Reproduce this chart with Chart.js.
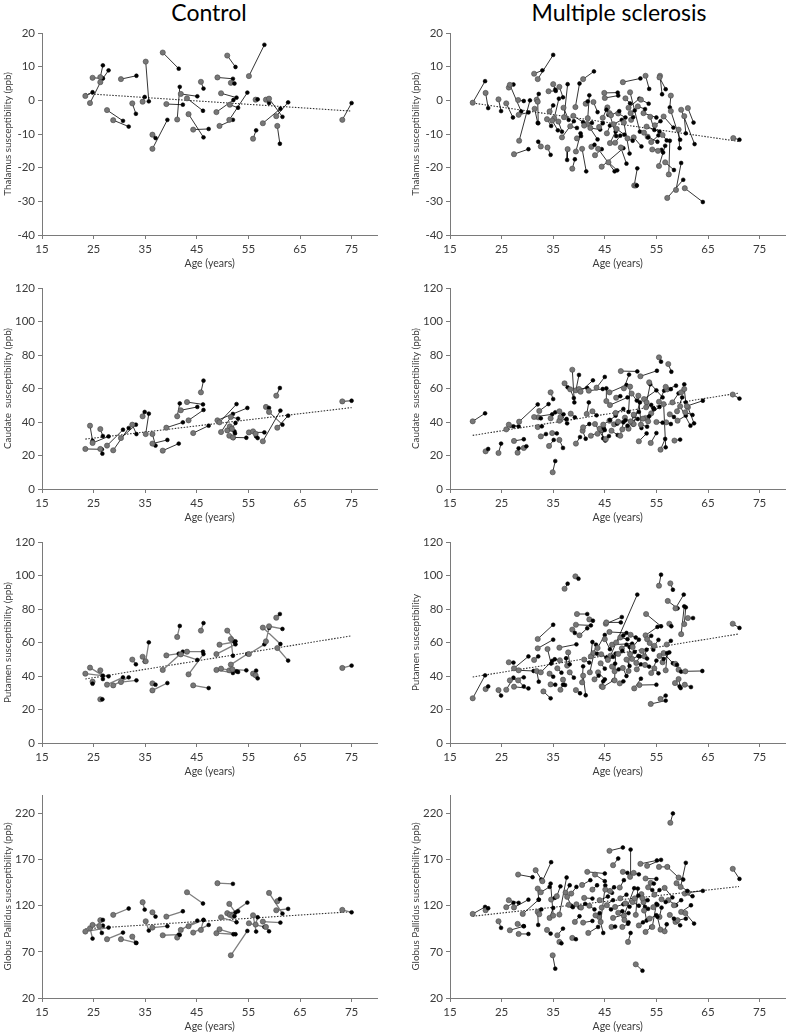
<!DOCTYPE html>
<html>
<head>
<meta charset="utf-8">
<script src="https://cdn.jsdelivr.net/npm/chart.js@4.4.1/dist/chart.umd.min.js"></script>
<style>
  body { margin: 0; background: #fff; width: 790px; height: 1033px; overflow: hidden; position: relative; font-family: Lato, sans-serif; }
  .head { position: absolute; top: 0; width: 338px; text-align: center; font-size: 23px; line-height: 25px; color: #000; }
  canvas { position: absolute; }
</style>
</head>
<body>
<div class="head" style="left:40px">Control</div>
<div class="head" style="left:450px">Multiple sclerosis</div>
<canvas id="c1"></canvas><canvas id="c2"></canvas>
<canvas id="c3"></canvas><canvas id="c4"></canvas>
<canvas id="c5"></canvas><canvas id="c6"></canvas>
<canvas id="c7"></canvas><canvas id="c8"></canvas>
<script>
// each row: [age at scan 1, value 1, age at scan 2, value 2]
const xTicks = [15, 25, 35, 45, 55, 65, 75];
const thalTicks = [-40, -30, -20, -10, 0, 10, 20];
const caudTicks = [0, 20, 40, 60, 80, 100, 120];
const putTicks = [0, 20, 40, 60, 80, 100, 120];
const gpTicks = [20, 70, 120, 170, 220];

const thalCtrl = [
  [23.4,1.3,24.8,2.4],[24.3,-0.8,26.7,6.5],[24.8,6.7,26.8,6.5],[26.3,6.9,26.8,10.4],
  [26.3,5.4,27.9,8.9],[27.6,-2.9,30.7,-6.1],[28.8,-5.9,31.8,-7.8],[30.3,6.3,33.3,7.3],
  [32.5,-0.9,33.2,-4.0],[34.5,-0.4,34.9,1.0],[35.1,11.5,35.7,-0.3],[36.4,-10.2,37.0,-11.2],
  [36.4,-14.4,39.3,-5.8],[38.4,14.2,41.5,9.4],[39.1,-1.1,42.3,-1.3],[41.2,-5.7,41.7,4.0],
  [41.9,1.9,45.1,1.2],[43.1,0.6,46.2,-3.1],[43.4,-4.1,46.3,-11.0],[44.3,-8.7,47.3,-8.5],
  [45.8,5.5,46.3,3.5],[49.0,6.8,52.0,6.4],[48.8,-3.5,52.1,0.1],[49.4,-7.6,52.0,-5.8],
  [49.7,2.1,52.7,0.8],[50.9,13.3,52.5,9.9],[51.3,-5.8,54.8,2.3],[51.4,-1.3,53.0,-2.2],
  [51.6,5.2,52.3,5.0],[55.1,7.2,58.1,16.5],[56.4,0.2,56.8,0.3],[55.9,-11.4,56.5,-8.9],
  [57.8,-6.8,61.2,-2.5],[58.4,0.2,59.0,-0.8],[59.0,0.5,61.6,-4.9],[60.4,-4.7,62.7,-0.6],
  [60.6,-7.6,61.1,-12.9],[73.2,-5.8,75.0,-0.8]
];
const caudCtrl = [
  [23.4,23.9,26.6,23.7],[24.3,37.8,24.8,28.8],[24.8,27.5,27.9,31.4],[26.3,35.8,26.8,31.6],
  [26.3,23.9,26.7,21.1],[27.6,25.9,30.7,35.4],[28.8,23.1,31.8,36.4],[30.3,30.4,33.2,38.4],
  [32.5,38.4,33.3,32.8],[34.5,43.4,34.9,46.0],[35.1,32.8,35.7,45.0],[36.4,32.8,37.0,25.9],
  [36.4,27.1,39.3,29.3],[38.4,22.9,41.5,27.1],[39.1,36.6,42.3,39.8],[41.2,43.4,41.7,51.1],
  [41.9,47.0,45.1,49.0],[43.1,51.9,46.2,50.5],[43.4,41.0,46.3,47.2],[44.3,33.4,47.3,37.8],
  [45.8,57.7,46.3,64.7],[49.0,41.0,54.8,48.4],[49.7,34.0,52.0,44.8],[49.4,39.8,52.7,50.7],
  [50.9,35.0,52.3,34.4],[51.3,31.8,52.1,30.4],[51.4,37.4,52.4,33.2],[51.6,43.0,53.0,42.0],
  [52.0,30.8,54.6,30.6],[51.8,36.0,52.5,39.4],[55.1,33.8,58.1,33.8],[55.9,34.4,56.5,31.4],
  [56.4,33.0,56.8,30.4],[57.8,28.5,61.2,46.8],[58.4,49.0,59.0,48.4],[59.0,46.0,61.6,38.4],
  [60.4,55.7,61.1,60.3],[60.6,36.6,62.7,43.8],[73.2,52.3,75.0,52.7]
];
const putCtrl = [
  [23.4,41.4,27.9,39.8],[24.3,45.0,26.8,40.2],[24.8,36.6,24.8,35.4],[26.3,43.4,26.8,38.2],
  [26.3,26.1,26.7,26.1],[27.6,34.8,30.7,39.2],[28.8,34.4,31.8,39.2],[30.3,36.4,33.3,37.4],
  [32.5,49.8,33.2,47.0],[34.5,51.5,34.9,48.6],[35.1,48.8,35.7,60.1],[36.4,35.6,37.0,34.8],
  [36.4,31.4,39.3,35.8],[38.4,43.6,42.3,54.5],[39.1,52.3,41.5,53.3],[41.2,63.3,41.7,69.9],
  [41.9,52.9,45.1,49.6],[43.1,54.5,46.2,54.5],[43.4,41.0,46.3,53.1],[44.3,34.4,47.3,32.8],
  [45.8,67.1,46.3,71.6],[48.8,53.1,52.5,58.9],[49.4,58.7,52.3,60.3],[50.9,67.1,52.5,60.7],
  [51.6,62.1,52.0,52.1],[48.8,43.6,52.0,41.8],[49.7,44.4,52.7,42.8],[51.3,43.4,53.0,42.4],
  [51.6,46.8,54.8,53.1],[51.9,44.0,54.6,43.4],[55.1,53.1,58.1,58.9],[55.9,41.4,56.5,43.2],
  [56.4,40.4,56.8,38.6],[57.8,68.9,61.2,59.1],[58.4,60.7,59.0,68.7],[59.0,69.7,61.6,68.1],
  [60.4,74.8,61.1,77.0],[60.6,56.7,62.7,49.2],[73.2,44.8,75.0,46.2]
];
const gpCtrl = [
  [23.4,92.0,27.9,96.3],[24.3,95.6,24.8,84.4],[24.8,99.2,26.8,98.5],[26.3,104.3,26.8,104.6],
  [26.1,98.1,26.6,90.5],[27.6,83.7,30.7,90.9],[28.8,110.1,31.8,117.0],[30.3,83.7,33.3,79.7],
  [32.5,86.5,33.2,79.7],[34.5,123.8,34.9,115.8],[35.1,103.2,35.7,93.1],[36.4,112.9,37.0,108.2],
  [36.4,96.3,39.3,97.8],[38.4,88.0,41.5,88.7],[39.1,108.2,42.3,114.0],[41.2,85.5,41.7,88.4],
  [41.9,93.8,45.1,103.9],[43.1,134.6,46.2,122.4],[43.4,97.8,46.3,104.6],[44.3,90.9,47.3,99.2],
  [45.8,93.8,46.3,104.6],[49.0,144.4,52.0,143.7],[48.8,90.2,52.1,89.1],[49.4,94.5,52.5,89.1],
  [49.7,107.5,52.7,102.1],[50.9,111.9,53.0,114.0],[51.3,122.0,52.5,112.6],[51.4,110.1,54.8,123.4],
  [51.6,66.3,54.8,92.7],[51.9,109.0,52.3,108.6],[55.1,101.0,58.1,97.0],[55.9,109.7,56.5,92.0],
  [56.4,99.6,56.8,107.5],[57.8,102.8,61.2,101.7],[58.4,97.0,59.0,92.3],[59.0,133.9,61.6,111.5],
  [60.4,115.1,62.7,116.6],[60.6,124.9,61.1,127.4],[73.2,115.5,75.0,112.9]
];

const thalMs = [
  [19.4,-0.7,21.8,5.7],[21.9,2.2,22.4,-2.3],[24.4,0.3,24.9,-3.2],[25.9,-0.9,27.2,-5.1],
  [26.4,3.8,27.3,4.7],[26.6,4.6,28.8,-3.3],[28.2,0.1,29.3,-0.2],[28.3,-4.3,30.2,-3.6],
  [28.4,-12.0,30.5,0.0],[27.4,-16.0,30.2,-14.5],[31.3,7.9,32.9,8.9],[32.0,6.3,35.0,13.5],
  [31.8,0.2,32.2,1.9],[32.0,-0.4,32.1,-6.8],[32.6,-13.7,32.1,-12.3],[34.1,2.7,35.5,2.8],
  [33.9,-14.0,34.5,-16.2],[35.0,4.8,35.4,3.2],[34.3,-3.3,35.0,-1.5],[35.2,-5.3,36.1,0.5],
  [34.8,-6.0,35.9,-8.9],[36.2,4.0,36.9,0.9],[37.1,-5.0,37.8,4.8],[37.8,-14.5,37.7,-17.7],
  [36.7,-11.0,39.0,-6.2],[38.7,-20.3,39.2,-17.5],[39.4,-15.2,40.3,-9.8],[39.3,-2.0,40.1,5.0],
  [40.8,6.3,42.9,8.6],[39.6,-11.3,40.4,-10.6],[40.6,-14.4,41.4,-21.1],[41.3,-1.0,41.7,-0.3],
  [41.6,-7.0,43.6,-11.6],[42.2,-8.2,44.1,-8.7],[43.1,-16.3,44.4,-14.5],[43.7,-14.4,46.9,-21.1],
  [44.4,-19.7,48.6,-14.2],[45.0,0.7,47.6,1.4],[44.9,2.2,47.5,2.3],[45.5,-2.1,45.7,-4.3],
  [45.9,-3.8,47.2,-10.6],[45.4,-9.8,46.0,-7.5],[45.7,-18.4,47.4,-20.8],[46.0,-12.7,47.1,-9.3],
  [46.7,-7.1,48.3,-5.8],[48.5,5.4,51.9,6.5],[49.0,0.6,49.9,-0.9],[49.6,-2.2,51.7,0.5],
  [48.1,-14.0,49.2,-18.8],[48.7,-6.6,49.8,-15.8],[49.9,2.4,51.8,-9.3],[50.1,-5.8,50.5,-5.0],
  [50.7,-25.3,51.3,-20.2],[51.0,-25.3,51.2,-25.3],[52.0,0.2,53.5,-1.0],[52.9,7.3,53.6,3.4],
  [52.5,-3.8,55.0,-5.1],[53.1,-7.8,55.6,-9.3],[53.3,-10.8,55.2,-12.3],[54.2,-14.6,56.0,-14.7],
  [55.7,7.3,56.1,1.8],[55.6,6.8,56.8,3.3],[55.5,-19.5,56.7,-13.5],[56.4,-4.8,58.3,-8.1],
  [56.7,-18.4,58.4,-20.7],[57.4,-22.0,57.6,-12.0],[57.1,-29.0,60.2,-23.6],[58.8,-26.6,59.8,-18.6],
  [60.5,-26.1,64.0,-30.2],[57.8,1.4,57.6,-2.1],[57.8,-3.2,59.6,-11.7],[59.3,-8.7,59.5,-14.2],
  [60.4,-4.7,60.7,-9.8],[61.1,-2.3,62.2,-6.6],[59.8,-2.8,62.4,-13.0],[69.9,-11.2,71.1,-11.7],
  [31.4,-2.5,32.0,-6.7],[33.8,-5.6,34.6,-7.6],[41.7,-5.3,42.0,1.5],[43.9,-7.9,44.6,-6.8],
  [47.0,-12.6,48.0,-10.5],[50.6,-11.0,52.1,-13.7],[52.6,-9.6,53.4,-11.0],[54.7,-7.4,55.8,-6.2],
  [38.9,-4.6,40.8,-6.5],[47.6,-3.9,49.0,-5.1],[41.0,-7.5,42.5,-6.7],[42.8,-0.5,43.6,-3.5],
  [44.6,-5.2,45.3,-2.8],[46.2,-4.4,47.8,-3.2],[47.3,-8.5,48.8,-10.2],[49.4,-11.3,50.4,-12.0],
  [51.4,-1.8,52.8,-2.6],[53.8,-4.9,54.6,-8.8],[54.0,-12.4,55.4,-10.4],[55.3,-15.0,56.3,-15.5],
  [42.4,-13.8,43.0,-13.2],[38.3,-7.7,39.6,-8.2],[36.0,-6.3,36.7,-9.3],[37.0,-2.2,38.0,-5.8],
  [56.2,-10.3,57.0,-11.9],[50.0,-3.8,50.8,-3.0]
];
const caudMs = [
  [19.4,40.4,21.8,45.2],[21.9,22.5,22.4,23.9],[24.4,21.5,24.9,27.1],[25.9,35.6,27.3,37.4],
  [26.4,38.4,28.3,37.4],[27.4,28.7,29.3,29.7],[28.1,21.7,28.3,24.3],[28.4,40.2,32.0,50.5],
  [29.3,24.5,29.8,25.5],[32.0,37.0,32.8,37.4],[32.1,42.8,32.6,42.2],[32.3,46.6,34.1,50.7],
  [32.6,31.4,33.6,32.8],[31.3,43.0,34.8,44.6],[34.2,25.7,35.1,29.3],[34.5,57.7,35.0,53.7],
  [34.9,10.0,35.4,16.7],[34.5,42.2,35.4,45.8],[34.8,33.4,35.7,33.2],[36.2,29.3,36.9,24.5],
  [36.2,40.8,37.6,41.8],[36.2,46.4,37.7,39.2],[37.2,63.1,37.8,60.7],[38.7,71.2,39.1,51.7],
  [38.3,59.5,39.0,54.3],[39.4,58.9,40.0,68.1],[39.4,27.1,40.2,31.0],[40.0,59.7,41.6,60.3],
  [40.3,58.1,42.7,64.9],[40.7,34.8,41.3,30.0],[41.5,44.8,41.9,51.7],[41.9,58.7,44.6,59.7],
  [42.3,31.8,44.5,34.8],[43.1,38.8,45.1,28.9],[43.4,60.5,45.0,66.9],[44.4,35.4,44.7,30.2],
  [45.3,52.5,45.3,60.1],[45.9,57.7,49.2,62.1],[46.0,50.1,49.4,54.7],[45.9,40.8,47.1,43.8],
  [46.3,34.8,47.5,32.2],[47.1,45.4,48.6,47.8],[48.1,70.4,51.3,70.2],[48.0,31.8,48.6,39.8],
  [48.7,60.1,49.7,68.3],[48.9,42.6,50.5,38.4],[49.9,61.1,49.6,46.0],[50.6,38.8,51.8,51.7],
  [51.5,55.7,52.1,36.4],[51.9,67.3,55.1,70.6],[51.6,28.5,53.1,33.2],[52.9,42.4,54.6,47.8],
  [52.6,53.7,55.0,58.9],[53.1,51.7,53.8,62.5],[53.6,63.7,56.2,54.7],[53.9,27.5,55.0,33.4],
  [55.5,78.6,55.9,76.0],[55.5,52.1,56.5,58.7],[55.8,23.5,56.7,29.9],[56.4,50.7,56.8,24.9],
  [57.1,59.5,58.8,61.7],[57.3,74.6,57.9,70.0],[56.9,39.8,57.8,38.8],[58.1,51.7,59.3,57.1],
  [58.5,28.9,59.6,29.5],[59.0,46.4,60.0,54.7],[59.8,57.7,60.4,62.5],[60.4,59.7,60.7,51.7],
  [59.1,40.8,60.7,43.8],[60.6,45.8,62.0,44.2],[61.1,48.8,62.3,39.2],[59.6,49.4,61.6,37.8],
  [60.9,49.5,64.0,52.7],[69.8,56.4,71.1,54.0],[44.0,36.0,45.0,35.2],[46.8,38.6,47.4,39.0],
  [47.6,40.2,49.0,41.0],[50.0,40.4,51.4,41.8],[52.0,38.4,53.2,37.2],[54.0,45.2,55.6,49.0],
  [43.6,33.0,44.8,36.4],[49.6,36.0,50.6,43.6],[53.4,40.4,54.4,48.2],[42.6,46.4,43.4,44.0],
  [44.7,38.4,46.0,41.2],[48.4,35.6,49.4,37.8],[50.6,44.4,51.6,46.0],[52.4,42.0,53.6,43.4],
  [55.0,40.0,56.2,39.6],[57.6,44.6,58.4,43.0],[40.8,36.8,42.0,38.8],[38.4,45.0,39.2,42.8],
  [36.4,43.0,37.0,44.6],[47.2,54.5,48.0,55.4],[50.2,57.0,51.2,52.8],[53.0,48.8,54.0,50.2],
  [45.2,29.8,45.8,31.6],[56.8,61.0,57.8,59.6]
];
const putMs = [
  [19.4,26.7,21.8,40.4],[21.9,32.2,22.4,33.8],[24.4,31.6,24.9,28.3],[25.9,31.8,27.3,39.0],
  [26.4,48.2,27.3,48.0],[27.4,44.6,30.2,51.7],[27.4,33.6,30.2,32.6],[28.2,37.4,29.3,33.8],
  [28.3,43.4,31.2,43.0],[26.6,37.4,29.3,39.2],[31.3,49.6,32.1,51.7],[32.0,62.1,35.0,70.6],
  [32.0,56.5,35.0,61.7],[31.8,43.0,32.2,36.6],[32.6,42.2,34.8,49.0],[33.1,30.8,34.5,26.7],
  [33.9,56.1,34.6,47.4],[34.3,41.4,35.0,39.6],[34.5,35.0,35.4,34.8],[36.3,49.4,35.3,50.0],
  [36.2,56.9,39.5,58.9],[36.4,31.8,36.9,34.8],[36.9,37.8,37.3,34.6],[37.2,92.1,37.8,95.1],
  [37.7,46.2,37.5,50.6],[37.9,54.1,38.2,47.0],[38.7,67.7,39.2,65.7],[39.3,99.5,39.9,98.1],
  [39.6,77.0,41.6,77.0],[39.4,70.6,42.3,70.2],[39.4,31.6,40.2,29.7],[40.1,64.3,41.6,68.5],
  [40.8,40.2,41.3,28.5],[40.6,36.2,40.8,45.8],[42.0,73.8,42.7,73.0],[42.3,51.7,42.6,60.3],
  [42.1,42.2,43.3,58.7],[42.8,53.7,43.5,53.3],[43.6,56.7,45.0,64.5],[43.7,42.2,45.0,38.0],
  [44.4,33.8,44.7,36.8],[44.6,33.4,46.7,37.4],[45.2,71.2,48.3,75.2],[45.3,72.0,48.1,72.0],
  [45.9,66.3,49.2,65.7],[46.4,58.7,50.3,59.3],[46.9,42.8,47.7,44.0],[46.1,52.1,51.3,88.6],
  [46.9,37.4,47.1,53.4],[47.9,35.6,48.6,36.8],[48.5,44.8,49.2,40.0],[48.3,56.5,49.2,58.7],
  [49.2,49.8,49.8,46.0],[49.6,43.0,49.8,57.3],[50.4,57.3,51.6,61.7],[50.7,32.6,52.0,38.4],
  [51.1,47.8,51.8,51.7],[51.7,34.6,55.0,34.8],[52.7,51.7,53.1,55.7],[52.9,64.3,55.2,69.3],
  [53.0,77.0,55.9,69.7],[53.7,59.7,54.4,55.7],[54.0,41.8,55.0,49.2],[53.9,23.3,56.8,25.3],
  [55.5,93.9,55.9,100.5],[55.8,26.3,56.8,28.3],[56.2,48.2,57.5,54.1],[56.4,53.7,58.2,47.6],
  [56.8,43.4,57.1,53.7],[57.2,84.8,59.1,80.4],[57.7,95.3,58.2,91.5],[57.5,71.2,57.9,69.7],
  [58.7,47.2,59.0,46.6],[58.6,35.8,59.5,33.8],[59.3,38.2,59.7,32.8],[59.3,43.8,59.8,42.6],
  [58.7,80.4,60.3,88.6],[59.8,65.0,60.4,81.6],[60.4,71.0,60.7,81.0],[61.1,74.6,62.1,74.6],
  [60.6,42.8,63.9,43.0],[60.5,34.8,61.7,33.4],[69.8,71.2,71.1,68.7],[52.2,55.0,53.2,50.4],
  [50.3,50.2,51.5,52.0],[48.0,63.0,49.4,62.0],[45.0,62.0,46.0,56.0],[44.3,53.0,45.3,51.0],
  [54.6,58.0,55.4,61.6],[53.2,62.0,54.0,64.0],[47.2,60.0,48.6,64.2],[45.6,49.6,46.6,51.4],
  [47.6,53.2,48.4,55.0],[49.9,53.0,50.8,54.4],[51.2,44.0,52.0,47.0],[52.8,46.6,53.6,45.6],
  [44.2,47.6,45.0,44.4],[41.0,49.8,42.0,48.0],[43.0,38.0,43.8,40.2],[55.6,52.0,56.4,50.2],
  [57.0,58.8,57.8,61.0],[35.8,44.6,36.6,42.0],[38.2,42.2,39.0,39.0],[50.0,64.6,51.0,63.0],
  [54.6,44.6,55.4,41.6],[46.4,45.6,47.0,47.4]
];
const gpMs = [
  [19.4,111.1,21.8,118.7],[21.9,115.1,22.4,117.3],[24.4,103.2,24.9,96.0],[25.9,118.4,27.3,123.1],
  [26.4,126.0,28.3,123.1],[26.6,93.4,29.3,97.8],[27.4,118.1,30.2,126.6],[28.2,153.8,31.0,150.9],
  [28.1,100.3,29.3,97.8],[28.3,89.4,30.2,89.4],[29.1,111.1,32.2,126.6],[31.6,158.5,32.7,148.4],
  [32.0,138.6,32.2,126.6],[32.0,113.3,32.1,99.2],[32.6,134.6,34.3,140.4],[32.9,146.6,34.6,167.2],
  [32.3,110.8,32.7,116.0],[33.8,93.8,34.5,89.8],[34.3,106.8,35.0,117.6],[34.6,126.7,35.3,128.5],
  [34.9,66.3,35.4,51.8],[35.0,109.3,34.5,144.0],[35.7,130.3,36.4,141.0],[36.2,110.4,37.6,150.6],
  [36.2,80.8,36.6,79.3],[35.8,88.0,36.9,95.2],[37.4,134.2,38.2,142.2],[37.7,129.6,38.5,120.0],
  [38.7,85.1,39.4,83.7],[39.2,102.5,40.1,108.6],[38.5,133.2,39.5,140.4],[39.5,121.6,40.1,118.0],
  [40.6,142.5,42.2,147.7],[40.8,101.7,42.6,103.5],[41.0,128.5,42.6,127.8],[41.6,156.7,45.0,154.9],
  [41.8,90.5,43.7,97.0],[42.6,137.5,43.5,142.2],[43.1,153.8,45.0,146.6],[43.9,107.9,44.7,90.5],
  [44.2,102.5,45.1,142.0],[44.4,118.0,46.6,126.0],[45.1,137.5,46.4,134.0],[45.9,179.5,48.5,183.1],
  [46.6,163.9,47.6,171.2],[46.3,97.0,47.0,97.4],[46.6,106.8,49.6,112.0],[47.0,118.7,48.6,121.6],
  [47.9,139.7,48.7,147.7],[48.4,97.0,49.5,100.4],[48.5,156.7,49.4,155.6],[48.7,109.0,50.7,139.0],
  [49.5,80.8,50.0,90.5],[49.9,151.3,50.0,180.9],[50.6,155.6,51.6,154.0],[51.0,56.5,52.3,49.6],
  [51.0,110.1,51.4,138.6],[51.9,165.4,55.1,169.1],[52.1,132.5,53.1,104.0],[52.5,123.8,52.8,118.7],
  [52.9,149.5,55.0,149.1],[52.9,91.6,54.0,97.0],[53.2,163.2,55.9,169.7],[53.7,106.1,55.0,109.7],
  [53.9,144.8,54.5,144.0],[54.2,97.0,55.0,122.0],[55.5,162.1,57.2,162.1],[55.6,107.9,56.0,118.0],
  [55.8,94.1,55.2,108.0],[56.6,139.3,58.1,129.0],[56.6,92.3,57.0,99.9],[57.1,162.1,59.4,150.0],
  [57.7,209.9,58.2,220.0],[57.3,126.0,58.8,120.5],[58.4,120.5,59.8,126.0],[58.7,102.5,59.6,98.8],
  [59.1,104.3,60.7,106.0],[59.3,150.6,60.2,148.4],[59.7,140.4,60.7,166.5],[59.8,113.3,61.7,120.5],
  [60.5,133.2,62.0,130.3],[61.1,134.3,64.0,136.1],[58.9,144.4,61.0,136.0],[69.8,160.0,71.1,149.1],
  [60.6,112.0,62.3,100.7],[42.0,120.0,43.0,116.0],[44.0,126.0,45.6,130.0],[50.4,124.0,51.6,120.0],
  [52.3,128.0,53.3,126.0],[48.0,128.0,49.2,132.0],[54.6,132.0,55.6,137.0],[45.4,120.6,46.2,116.0],
  [47.6,112.4,48.4,114.0],[49.0,122.6,49.8,119.0],[50.8,128.0,51.5,131.0],[52.6,114.8,53.4,116.6],
  [54.4,118.4,55.2,121.0],[56.0,127.0,56.8,124.0],[43.2,109.6,44.0,112.0],[40.4,118.0,41.2,122.0],
  [38.0,121.0,38.8,118.4],[48.8,104.6,49.6,102.0],[51.6,98.6,52.4,102.0],[46.0,136.0,46.8,140.0],
  [53.4,140.0,54.2,137.0],[57.6,110.0,58.4,106.0]
];

// trend line end points [age, value]
const thalCtrlTrend = [[23.4, 2.0], [75, -3.2]];
const caudCtrlTrend = [[23.4, 29.8], [75, 48.6]];
const putCtrlTrend = [[23.4, 38.2], [75, 64.0]];
const gpCtrlTrend = [[23.4, 95.0], [75, 113.5]];
const thalMsTrend = [[19.4, -0.8], [71, -12.2]];
const caudMsTrend = [[19.4, 32.0], [71, 57.3]];
const putMsTrend = [[19.4, 39.4], [71, 65.1]];
const gpMsTrend = [[19.4, 108.6], [71, 140.8]];

const axisColor = '#7a7a7a';
const textColor = '#3a3a3a';

function makePanel(id, left, top, height, rows, trend, yMin, yMax, yTicks, yTitle, lineColor) {
  const cv = document.getElementById(id);
  cv.width = 382; cv.height = height;
  cv.style.left = left + 'px'; cv.style.top = top + 'px';

  const pts = [], fill = [], edge = [], rad = [];
  rows.forEach(r => {
    pts.push({x: r[0], y: r[1]}, {x: r[2], y: r[3]}, {x: r[2], y: null});
    fill.push('#777777', '#000000', 'rgba(0,0,0,0)');
    edge.push('#4a4a4a', '#000000', 'rgba(0,0,0,0)');
    rad.push(2.6, 1.9, 0);
  });

  new Chart(cv, {
    type: 'line',
    data: {
      datasets: [{
        data: pts,
        borderColor: lineColor,
        borderWidth: lineColor === '#000' ? 0.8 : 1.3,
        pointBackgroundColor: fill,
        pointBorderColor: edge,
        pointBorderWidth: 0.6,
        pointRadius: rad,
        spanGaps: false,
        tension: 0
      }, {
        data: trend.map(p => ({x: p[0], y: p[1]})),
        borderColor: '#333',
        borderWidth: 1.1,
        borderDash: [1.5, 1.5],
        pointRadius: 0
      }]
    },
    options: {
      responsive: false,
      animation: false,
      devicePixelRatio: 1,
      layout: {padding: {left: 2, right: 2, top: 10, bottom: 0}},
      plugins: {legend: {display: false}, tooltip: {enabled: false}},
      scales: {
        x: {
          type: 'linear', min: 15, max: 80,
          afterBuildTicks: s => { s.ticks = xTicks.map(v => ({value: v})); },
          afterFit: s => { s.height = 35; },
          grid: {display: true, drawOnChartArea: false, drawTicks: true, tickLength: 4, color: axisColor},
          border: {display: true, color: axisColor, width: 1},
          ticks: {color: textColor, font: {family: 'Lato', size: 11.5}, padding: 3, maxRotation: 0, autoSkip: false},
          title: {display: true, text: 'Age (years)', color: textColor, font: {family: 'Lato', size: 10.5}, padding: 0}
        },
        y: {
          type: 'linear', min: yMin, max: yMax,
          afterBuildTicks: s => { s.ticks = yTicks.map(v => ({value: v})); },
          afterFit: s => { s.width = 40; },
          grid: {display: true, drawOnChartArea: false, drawTicks: true, tickLength: 4, color: axisColor},
          border: {display: true, color: axisColor, width: 1},
          ticks: {color: textColor, font: {family: 'Lato', size: 11.5}, padding: 3, autoSkip: false},
          title: {display: true, text: yTitle, color: textColor, font: {family: 'Lato', size: 9.8}, padding: 0}
        }
      }
    }
  });
}

makePanel('c1', 0, 23, 247, thalCtrl, thalCtrlTrend, -40, 20, thalTicks, 'Thalamus susceptibility (ppb)', '#000');
makePanel('c2', 408, 23, 247, thalMs, thalMsTrend, -40, 20, thalTicks, 'Thalamus susceptibility (ppb)', '#000');
makePanel('c3', 0, 278, 246, caudCtrl, caudCtrlTrend, 0, 120, caudTicks, 'Caudate  susceptibility (ppb)', '#000');
makePanel('c4', 408, 278, 246, caudMs, caudMsTrend, 0, 120, caudTicks, 'Caudate  susceptibility (ppb)', '#000');
makePanel('c5', 0, 532, 246, putCtrl, putCtrlTrend, 0, 120, putTicks, 'Putamen susceptibility (ppb)', '#7f7f7f');
makePanel('c6', 408, 532, 246, putMs, putMsTrend, 0, 120, putTicks, 'Putamen susceptibility', '#000');
makePanel('c7', 0, 785, 248, gpCtrl, gpCtrlTrend, 20, 240, gpTicks, 'Globus Pallidus susceptibility (ppb)', '#7f7f7f');
makePanel('c8', 408, 785, 248, gpMs, gpMsTrend, 20, 240, gpTicks, 'Globus Pallidus susceptibility (ppb)', '#000');
</script>
</body>
</html>
